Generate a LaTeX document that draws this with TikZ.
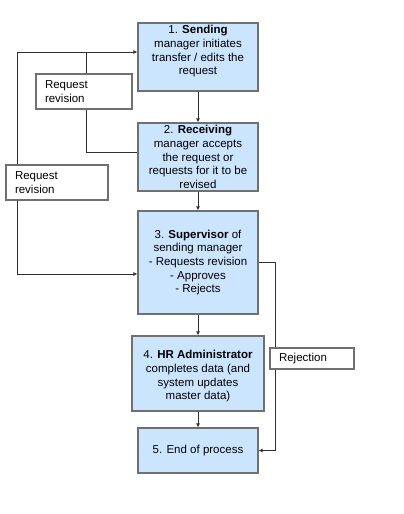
\documentclass[tikz,border=0pt]{standalone}
\usepackage{fontspec}
\setmainfont{Liberation Sans}
\usetikzlibrary{arrows.meta}
\definecolor{boxfill}{HTML}{CCE5FF}
\definecolor{boxline}{HTML}{707070}
\definecolor{linecol}{HTML}{303030}
\tikzset{
  stepbox/.style={draw=boxline, fill=boxfill, line width=1.2pt, align=center, inner sep=0pt},
  notebox/.style={draw=boxline, fill=white, line width=1.2pt, align=left, inner xsep=9pt, inner ysep=0pt},
  conn/.style={draw=linecol, line width=1pt},
  arr/.style={conn, -{Latex[length=4pt,width=4pt]}}
}
\begin{document}
\begin{tikzpicture}[x=1pt,y=-1pt,font=\fontsize{11.5}{13.7}\selectfont]
  \useasboundingbox (0,0) rectangle (404,514);
  % process steps
  \node[stepbox,minimum width=120pt,minimum height=68pt] (send) at (198,57)
    {1. \textbf{Sending}\\manager initiates\\transfer / edits the\\request\\~};
  \node[stepbox,minimum width=120pt,minimum height=68pt] (recv) at (198,157)
    {2. \textbf{Receiving}\\manager accepts\\the request or\\requests for it to be\\revised};
  \node[stepbox,minimum width=120pt,minimum height=103pt] (sup) at (198,262.5)
    {3. \textbf{Supervisor} of\\sending manager\\- Requests revision\\- Approves\\- Rejects};
  \node[stepbox,minimum width=132pt,minimum height=75pt] (hr) at (198,373.5)
    {~\\4. \textbf{HR Administrator}\\completes data (and\\system updates\\master data)};
  \node[stepbox,minimum width=120pt,minimum height=45pt] (end) at (198,450.5)
    {5. End of process};
  % side notes
  \node[notebox,text width=78pt,minimum height=35pt] (revA) at (84,91.5) {Request\\revision};
  \node[notebox,text width=84pt,minimum height=35pt] (revB) at (57,182.5) {Request\\revision};
  \node[notebox,text width=66pt,minimum height=21pt] (rej) at (312,358.5) {Rejection};
  \coordinate (top) at ([yshift=5pt]send.west);
  % main flow
  \draw[arr] (send.south) -- (recv.north);
  \draw[arr] (recv.south) -- (sup.north);
  \draw[arr] (sup.south) -- (hr.north);
  \draw[arr] (hr.south) -- (end.north);
  % loops back
  \draw[arr] ([xshift=12pt]revB.north west) |- (top);
  \draw[arr] ([xshift=12pt]revB.south west) |- ([yshift=-11.5pt]sup.west);
  \draw[conn] ([xshift=2pt]revA.north) -- ([xshift=2pt]revA.north |- top);
  \draw[conn] ([xshift=2pt]revA.south) |- ([yshift=5pt]recv.west);
  \draw[conn] (sup.east) -| ([xshift=6pt]rej.north west);
  \draw[arr] ([xshift=6pt]rej.south west) |- (end.east);
\end{tikzpicture}
\end{document}
